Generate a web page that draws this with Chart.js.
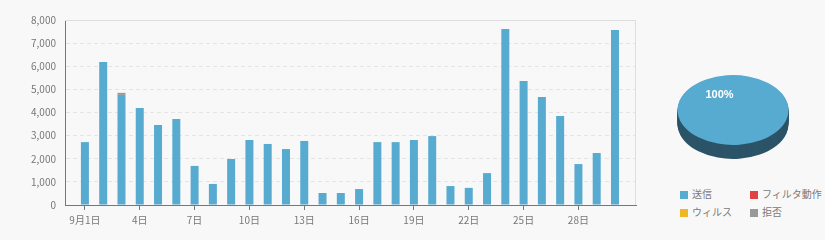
<!DOCTYPE html>
<html>
<head>
<meta charset="utf-8">
<script src="https://cdn.jsdelivr.net/npm/chart.js@4/dist/chart.umd.min.js"></script>
<style>
  html, body { margin: 0; padding: 0; background: #f8f8f8; }
  #wrap { position: relative; width: 825px; height: 240px; overflow: hidden; }
  #barBox { position: absolute; left: 0; top: 0; width: 650px; height: 240px; }
  #pieBox { position: absolute; left: 658px; top: 35px; width: 150px; height: 150px; }
  #legend { position: absolute; left: 680px; top: 188px; width: 140px;
    font: 10px 'Noto Sans CJK JP', sans-serif; color: #7a7a7a; }
  #legend .item { position: absolute; height: 12px; line-height: 12px; white-space: nowrap; }
  #legend .box { display: inline-block; width: 8px; height: 8px; margin-right: 4px; vertical-align: -1px; }
</style>
</head>
<body>
<div id="wrap">
  <div id="barBox"><canvas id="bars"></canvas></div>
  <div id="pieBox"><canvas id="pie"></canvas></div>
  <div id="legend"></div>
</div>
<script>
  const days = [1, 2, 3, 4, 5, 6, 7, 8, 9, 10, 11, 12, 13, 14, 15, 16, 17, 18, 19, 20,
    21, 22, 23, 24, 25, 26, 27, 28, 29, 30];
  const tickDays = [1, 4, 7, 10, 13, 16, 19, 22, 25, 28];
  const tickLabels = ['9月1日', '4日', '7日', '10日', '13日', '16日', '19日', '22日', '25日', '28日'];

  const seriesNames = ['送信', 'フィルタ動作', 'ウィルス', '拒否'];
  const sendValues = [2720, 6180, 4760, 4190, 3460, 3720, 1690, 910, 1990, 2810,
    2640, 2420, 2770, 520, 520, 690, 2720, 2720, 2810, 2980,
    820, 740, 1380, 7610, 5360, 4670, 3850, 1770, 2250, 7570];
  const filterValues = [0, 0, 0, 0, 0, 0, 0, 0, 0, 0, 0, 0, 0, 0, 0, 0, 0, 0, 0, 0,
    0, 0, 0, 0, 0, 0, 0, 0, 0, 0];
  const virusValues = [0, 0, 0, 0, 0, 0, 0, 0, 0, 0, 0, 0, 0, 0, 0, 0, 0, 0, 0, 0,
    0, 0, 0, 0, 0, 0, 0, 0, 0, 0];
  const rejectValues = [0, 0, 90, 0, 0, 0, 0, 0, 0, 0, 0, 0, 0, 0, 0, 0, 0, 0, 0, 0,
    0, 0, 0, 0, 0, 0, 0, 0, 0, 0];

  const colors = ['#58abd0', '#e04343', '#f0b823', '#999999'];
  const sideColors = ['#2c5468', '#702222', '#785c12', '#4c4c4c'];
  const allSeries = [sendValues, filterValues, virusValues, rejectValues];

  const textColor = '#777';
  const font = { family: "'Noto Sans CJK JP', sans-serif", size: 10 };

  // light frame on top and right of the plot
  const frame = {
    id: 'frame',
    beforeDatasetsDraw(chart) {
      const { ctx, chartArea: a } = chart;
      ctx.save();
      ctx.strokeStyle = '#dedede';
      ctx.lineWidth = 1;
      ctx.beginPath();
      ctx.moveTo(a.left, a.top + 0.5);
      ctx.lineTo(a.right - 0.5, a.top + 0.5);
      ctx.lineTo(a.right - 0.5, a.bottom);
      ctx.stroke();
      ctx.restore();
    }
  };

  new Chart(document.getElementById('bars'), {
    type: 'bar',
    data: {
      labels: days,
      datasets: seriesNames.map((name, i) => ({
        label: name,
        data: allSeries[i],
        backgroundColor: colors[i],
        borderWidth: 0,
        inflateAmount: 0,
        barThickness: 8
      }))
    },
    options: {
      responsive: true,
      maintainAspectRatio: false,
      animation: false,
      layout: { padding: { left: 0, top: 20, right: 14, bottom: 0 } },
      plugins: {
        legend: { display: false },
        tooltip: { enabled: false }
      },
      scales: {
        x: {
          type: 'linear',
          stacked: true,
          offset: false,
          min: -0.09,
          max: 31.15,
          afterBuildTicks: scale => { scale.ticks = tickDays.map(v => ({ value: v })); },
          afterFit: scale => { scale.height = 35; },
          ticks: {
            color: textColor,
            font: font,
            padding: 4,
            maxRotation: 0,
            autoSkip: false,
            callback: v => tickLabels[tickDays.indexOf(v)]
          },
          grid: { offset: false, drawOnChartArea: false, drawTicks: true, tickLength: 5, tickColor: '#777' },
          border: { color: '#777', width: 1 }
        },
        y: {
          stacked: true,
          min: 0,
          max: 8000,
          afterFit: scale => { scale.width = 65; },
          ticks: {
            stepSize: 1000,
            color: textColor,
            font: font,
            padding: 9,
            callback: v => v.toLocaleString('en-US')
          },
          grid: { color: '#e4e4e4', drawTicks: false, lineWidth: 1 },
          border: { color: '#777', width: 1, dash: [4, 3] }
        }
      }
    },
    plugins: [frame]
  });

  // pie: rounded percentage share of each series, drawn tilted with a dark side
  const totals = allSeries.map(s => s.reduce((a, b) => a + b, 0));
  const grand = totals.reduce((a, b) => a + b, 0);
  const shares = totals.map(t => Math.round(t / grand * 100));
  const tilt = 0.63;
  const depth = 14;

  const pie3d = {
    id: 'pie3d',
    beforeDatasetsDraw(chart) {
      const ctx = chart.ctx;
      const meta = chart.getDatasetMeta(0);
      const cy = meta.data[0].y;
      for (let d = depth; d > 0; d--) {
        ctx.save();
        ctx.translate(0, cy + d);
        ctx.scale(1, tilt);
        ctx.translate(0, -cy);
        meta.data.forEach((arc, i) => {
          if (arc.endAngle - arc.startAngle <= 0) return;
          ctx.beginPath();
          ctx.moveTo(arc.x, arc.y);
          ctx.arc(arc.x, arc.y, arc.outerRadius, arc.startAngle, arc.endAngle);
          ctx.closePath();
          ctx.fillStyle = sideColors[i];
          ctx.fill();
        });
        ctx.restore();
      }
      ctx.save();
      ctx.translate(0, cy);
      ctx.scale(1, tilt);
      ctx.translate(0, -cy);
    },
    afterDatasetsDraw(chart) {
      const ctx = chart.ctx;
      ctx.restore();
      const meta = chart.getDatasetMeta(0);
      const cy = meta.data[0].y;
      ctx.save();
      ctx.fillStyle = '#fff';
      ctx.font = 'bold 11px Arial, sans-serif';
      ctx.textAlign = 'center';
      ctx.textBaseline = 'middle';
      meta.data.forEach((arc, i) => {
        if (shares[i] < 1) return;
        const p = arc.tooltipPosition();
        ctx.fillText(shares[i] + '%', p.x, cy + (p.y - cy) * tilt);
      });
      ctx.restore();
    }
  };

  new Chart(document.getElementById('pie'), {
    type: 'pie',
    data: {
      labels: seriesNames,
      datasets: [{ data: shares, backgroundColor: colors, borderWidth: 0 }]
    },
    options: {
      responsive: true,
      maintainAspectRatio: false,
      animation: false,
      rotation: 151,
      layout: { padding: 19.5 },
      plugins: { legend: { display: false }, tooltip: { enabled: false } }
    },
    plugins: [pie3d]
  });

  // legend, two columns
  const legend = document.getElementById('legend');
  seriesNames.forEach((name, i) => {
    const item = document.createElement('div');
    item.className = 'item';
    item.style.left = (i % 2) * 70 + 'px';
    item.style.top = Math.floor(i / 2) * 18 + 'px';
    item.innerHTML = '<span class="box" style="background:' + colors[i] + '"></span>' + name;
    legend.appendChild(item);
  });
</script>
</body>
</html>
